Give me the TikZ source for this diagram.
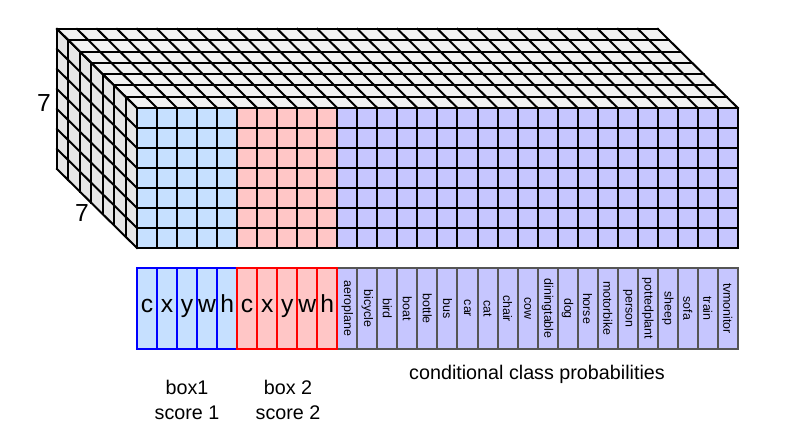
\documentclass[tikz,border=0pt]{standalone}
\usepackage{fontspec}
\setmainfont{Liberation Sans}
\usepackage{tikz}

\definecolor{boxblue}{RGB}{198,224,255}
\definecolor{boxred}{RGB}{255,198,198}
\definecolor{classpurple}{RGB}{198,198,255}
\definecolor{topgray}{RGB}{242,242,242}
\definecolor{sidegray}{RGB}{230,230,230}
\definecolor{classedge}{RGB}{85,85,85}

\tikzset{
  cell/.style={minimum width=15.02pt,minimum height=60.75pt,inner sep=0pt,
               text height=1ex,text depth=0pt,
               line width=1.5pt,font=\fontsize{18.5}{18.5}\selectfont},
  classcell/.style={draw=classedge,fill=classpurple,rotate=-90,inner sep=0pt,
               minimum width=60.75pt,minimum height=15.02pt,line width=1.5pt,
               font=\fontsize{9.3}{10}\selectfont},
  lbl/.style={anchor=base,font=\fontsize{14.8}{16}\selectfont}
}

\begin{document}
\begin{tikzpicture}[x=0.75pt,y=-0.75pt,line width=1.5pt,line cap=rect]
                              \useasboundingbox (0,0) rectangle (798,433);

                              % Faces of the tensor
                              \fill[topgray] (137,108) -- (57,29) -- (658,29) -- (738,108) -- cycle;
                              \fill[sidegray] (137,108) -- (57,29) -- (57,169) -- (137,248) -- cycle;
                              \fill[boxblue] (137,108) rectangle (237.15,248);
                              \fill[boxred] (237.15,108) rectangle (337.3,248);
                              \fill[classpurple] (337.3,108) rectangle (738,248);

                              % Front grid
                              \foreach \i in {0,...,30}
                                    \draw (137+\i*20.03,108) -- ++(0,140);
                              \foreach \j in {0,...,7}
                                    \draw (137,108+\j*20) -- (738,108+\j*20);

                              % Top grid
                              \foreach \k in {1,...,7}
                                    \draw (137-\k*11.43,108-\k*11.29) -- ++(601,0);
                              \foreach \i in {0,...,30}
                                    \draw (137+\i*20.03,108) -- ++(-80,-79);

                              % Side grid
                              \foreach \k in {1,...,7}
                                    \draw (137-\k*11.43,108-\k*11.29) -- ++(0,140);
                              \foreach \j in {0,...,7}
                                    \draw (137,108+\j*20) -- ++(-80,-79);

                              % Depth and height
                              \node[font=\fontsize{18.5}{19}\selectfont] (rows) at (44,103) {7};
                              \node[font=\fontsize{18.5}{19}\selectfont] (depth) at (82,213) {7};

                              % Class probabilities
                              \foreach \c [count=\n from 10] in {aeroplane,bicycle,bird,boat,bottle,bus,car,cat,chair,cow,
                                    diningtable,dog,horse,motorbike,person,pottedplant,sheep,sofa,train,tvmonitor}
                                    \node[classcell] (cls\n) at (147+\n*20.03,308.5) {\c};

                              % Box 1 and box 2
                              \foreach \l [count=\n from 0] in {c,x,y,w,h}
                                    \node[cell,draw=blue,fill=boxblue] (bxa\n) at (147+\n*20.03,308.5) {\l};
                              \foreach \l [count=\n from 5] in {c,x,y,w,h}
                                    \node[cell,draw=red,fill=boxred] (bxb\n) at (147+\n*20.03,308.5) {\l};

                              % Captions
                              \node[lbl] (box1) at (187,394) {box1};
                              \node[lbl] (score1) at (187,419) {score 1};
                              \node[lbl] (box2) at (288,394) {box 2};
                              \node[lbl] (score2) at (288,419) {score 2};
                              \node[lbl] (probs) at (537,379) {conditional class probabilities};
                        \end{tikzpicture}
\end{document}
